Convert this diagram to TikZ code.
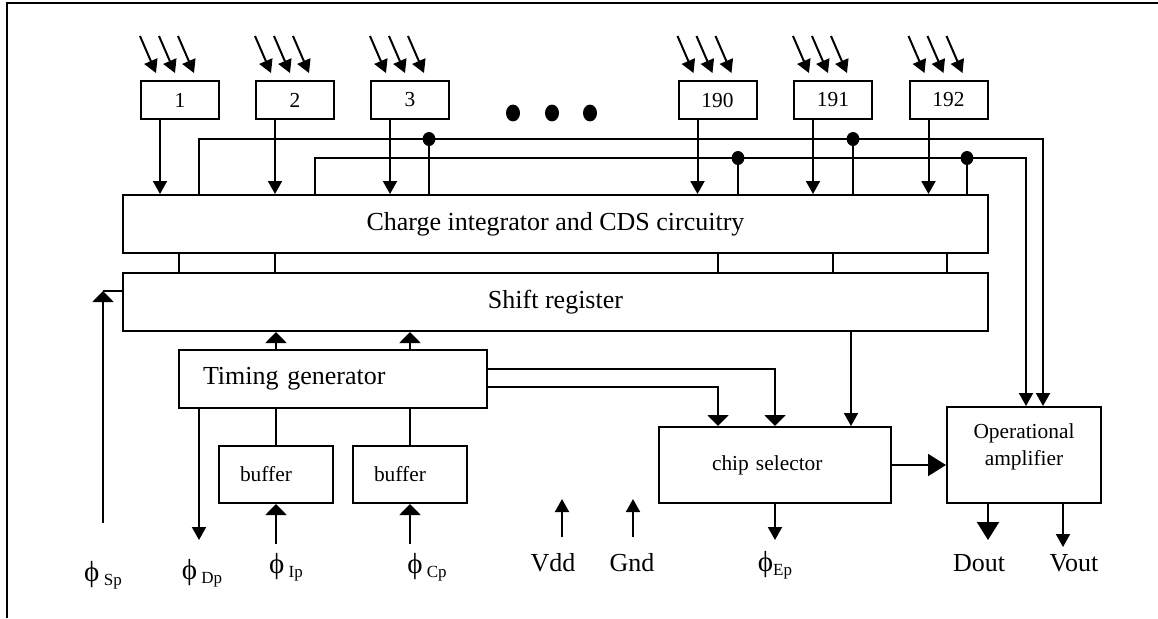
\documentclass[tikz,border=0pt]{standalone}
\usepackage{fontspec}
\setmainfont{Liberation Serif}
\usepackage{tikz}
\usetikzlibrary{shapes,arrows.meta,positioning}

\newcommand{\bigfont}{\fontsize{13}{15}\selectfont}
\newcommand{\smallfont}{\fontsize{10.7}{13.5}\selectfont}
\newcommand{\phichar}{{\fontsize{14.5}{16}\selectfont ϕ}}
\newcommand{\phisub}[1]{\phichar\,\raisebox{-2pt}{\fontsize{8.5}{10}\selectfont #1}}

\tikzset{
	block/.style={draw, line width=1pt, inner sep=0pt, font=\smallfont},
	sig/.style={font=\bigfont, inner sep=0pt},
	wide/.style={-{Triangle[length=5.5pt,width=10.5pt]}},
	big/.style={-{Triangle[length=9pt,width=11pt]}},
}

\begin{document}
\begin{tikzpicture}[x=0.5pt, y=-0.5pt, line width=1pt, >={Triangle[length=6.5pt,width=7pt]}]
				\useasboundingbox (0,0) rectangle (1158,618);
				\draw (7,618) -- (7,3) -- (1158,3);

				% detector pixels
				\node[block, minimum width=39pt, minimum height=19pt] (b1) at (180,100) {1};
				\node[block, minimum width=39pt, minimum height=19pt] (b2) at (295,100) {2};
				\node[block, minimum width=39pt, minimum height=19pt] (b3) at (410,100) {3};
				\node[block, minimum width=39pt, minimum height=19pt] (b190) at (717.5,100) {190};
				\node[block, minimum width=39pt, minimum height=19pt] (b191) at (833,100) {191};
				\node[block, minimum width=39pt, minimum height=19pt] (b192) at (948.5,100) {192};
				\fill (513,113) ellipse (3.5pt and 4.2pt);
				\fill (552,113) ellipse (3.5pt and 4.2pt);
				\fill (590,113) ellipse (3.5pt and 4.2pt);

				% main blocks
				\node[block, font=\bigfont, minimum width=432.5pt, minimum height=29pt] (cds) at (555.5,224) {Charge integrator and CDS circuitry};
				\node[block, font=\bigfont, minimum width=432.5pt, minimum height=29pt] (sr) at (555.5,302) {Shift register};
				\node[block, font=\bigfont, minimum height=29pt, text width=130pt, inner xsep=12pt, align=left] (tg) at (333,379) {Timing generator};
				\node[block, minimum height=28.5pt, text width=36pt, inner xsep=10.5pt, align=left] (buf1) at (276,474.5) {buffer};
				\node[block, minimum height=28.5pt, text width=36pt, inner xsep=10.5pt, align=left] (buf2) at (410,474.5) {buffer};
				\node[block, minimum height=38pt, text width=63pt, inner xsep=26.5pt, align=left] (cs) at (775,465) {chip selector};
				\node[block, minimum width=77pt, minimum height=48pt, text depth=10pt, align=center] (op) at (1024,455) {Operational\\amplifier};

				% light and pixel outputs
				\foreach \b in {b1,b2,b3,b190,b191,b192}{
					\foreach \k in {0,19,38}
						\draw[->] ([shift={(\k,-44)}]\b.north west) -- ([shift={({\k+16},-7)}]\b.north west);
					\draw[->] ([xshift=10pt]\b.south west) -- ([xshift=10pt]\b.south west |- cds.north);
				}

				% buses to the amplifier
				\coordinate (busA) at (199,139);
				\coordinate (busB) at (315,158);
				\coordinate (endA) at (1043,139);
				\coordinate (endB) at (1026,158);
				\draw[->] (busA |- cds.north) -- (busA) -- (endA) -- (endA |- op.north);
				\draw[->] (busB |- cds.north) -- (busB) -- (endB) -- (endB |- op.north);
				\foreach \x/\y in {429/139, 853/139, 738/158, 967/158}{
					\fill (\x,\y) ellipse (3.2pt and 3.5pt);
					\draw (\x,\y) -- (\x,\y |- cds.north);
				}
				\foreach \x in {179,275,718,833,947}
					\draw (\x,0 |- cds.south) -- (\x,0 |- sr.north);

				% clocks and control
				\coordinate (spA) at (103,523);
				\coordinate (spB) at (103,291);
				\draw[wide] (spA) -- (spB);
				\draw (spB) -- (spB -| sr.west);
				\draw[wide] (buf1.north |- tg.north) -- (buf1.north |- sr.south);
				\draw[wide] (buf2.north |- tg.north) -- (buf2.north |- sr.south);
				\draw (buf1.north |- tg.south) -- (buf1.north);
				\draw (buf2.north |- tg.south) -- (buf2.north);
				\coordinate (dpA) at (199,540);
				\draw[->] (dpA |- tg.south) -- (dpA);
				\coordinate (ipA) at (276,544);
				\coordinate (cpA) at (410,544);
				\draw[wide] (ipA) -- (ipA |- buf1.south);
				\draw[wide] (cpA) -- (cpA |- buf2.south);
				\draw[wide] (tg.east |- 0,369) -| (775,0 |- cs.north);
				\draw[wide] (tg.east |- 0,387) -| (718,0 |- cs.north);
				\draw[->] (851,0 |- sr.south) -- (851,0 |- cs.north);
				\draw[big] (cs.east) -- (cs.east -| op.west);
				\coordinate (epA) at (775,540);
				\draw[->] (cs.south) -- (epA);
				\coordinate (doA) at (988,540);
				\coordinate (voA) at (1063,547);
				\draw[big] (doA |- op.south) -- (doA);
				\draw[->] (voA |- op.south) -- (voA);
				\coordinate (vdA) at (562,537);
				\coordinate (gnA) at (633,537);
				\draw[->] (vdA) -- (562,499);
				\draw[->] (gnA) -- (633,499);

				% pin labels
				\node[sig] (lSp) at (103,575) {\phisub{Sp}};
				\node[sig] (lDp) at (202,573) {\phisub{Dp}};
				\node[sig] (lIp) at (286,567) {\phisub{Ip}};
				\node[sig] (lCp) at (427,567) {\phisub{Cp}};
				\node[sig] (lEp) at (775,565) {\phichar\raisebox{-2pt}{\fontsize{8.5}{10}\selectfont Ep}};
				\node[sig] (lVdd) at (553,563) {Vdd};
				\node[sig] (lGnd) at (632,563) {Gnd};
				\node[sig] (lDout) at (979,563) {Dout};
				\node[sig] (lVout) at (1074,563) {Vout};
\end{tikzpicture}
\end{document}
